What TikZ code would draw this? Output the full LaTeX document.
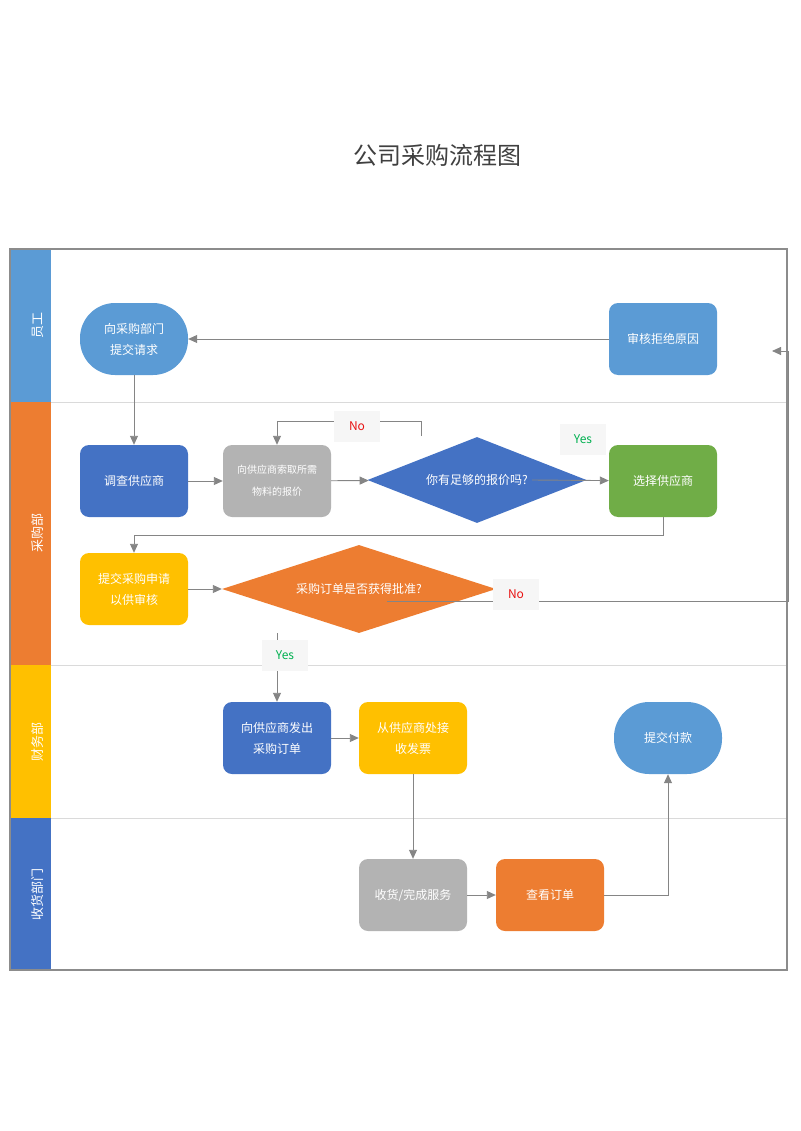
\documentclass[tikz,border=0pt]{standalone}
\usepackage{fontspec}
\newfontfamily\cjk{Noto Sans CJK SC}
\usepackage{xcolor}
\usepackage{tikz}
\usetikzlibrary{
    positioning,
    arrows.meta,
    shapes.geometric
}
\definecolor{staffblue}{HTML}{5B9BD5}
\definecolor{buyorange}{HTML}{ED7D31}
\definecolor{finyellow}{HTML}{FFC000}
\definecolor{recvblue}{HTML}{4472C4}
\definecolor{pickgreen}{HTML}{70AD47}
\definecolor{quotegray}{HTML}{B3B3B3}
\definecolor{linegray}{HTML}{858585}
\definecolor{framegray}{HTML}{8C8C8C}
\definecolor{lanegray}{HTML}{DADADA}
\definecolor{answerbg}{HTML}{F6F6F6}
\definecolor{yesgreen}{HTML}{00B050}
\definecolor{nored}{HTML}{E81010}
\definecolor{titlegray}{HTML}{404040}
\tikzset{
    lanelabel/.style={
        rotate=90, text=white,
        font=\cjk\fontsize{13pt}{15pt}\selectfont
    },
    procbox/.style={
        rectangle, fill=#1, draw=none,
        rounded corners=9pt,
        minimum width=108pt, minimum height=72pt,
        inner sep=2pt, align=center, text=white,
        font=\cjk\fontsize{12pt}{21pt}\selectfont
    },
    termbox/.style={
        procbox=#1, rounded corners=35pt
    },
    decision/.style={
        diamond, fill=#1, draw=none, aspect=3,
        inner sep=0pt, align=center, text=white,
        font=\cjk\fontsize{12pt}{14pt}\selectfont
    },
    flow/.style={
        -{Triangle[length=9pt,width=8pt]}, draw=linegray, line width=0.9pt
    },
    answer/.style={
        rectangle, fill=answerbg, text=#1,
        minimum width=46pt, minimum height=31pt,
        font=\cjk\fontsize{12pt}{14pt}\selectfont
    }
}

\begin{document}
\begin{tikzpicture}[x=1pt, y=-1pt]

    \useasboundingbox (0,0) rectangle (800,1131);

    \node[font=\cjk\fontsize{24pt}{28pt}\selectfont, text=titlegray] (title) at (437,155) {公司采购流程图};

    % lanes
    \fill[staffblue] (10,249) rectangle (51,402);
    \fill[buyorange] (10,402) rectangle (51,665);
    \fill[finyellow] (10,665) rectangle (51,818);
    \fill[recvblue] (10,818) rectangle (51,970);
    \foreach \y in {402,665,818}
        \draw[lanegray, line width=0.8pt] (51,\y) -- (787,\y);
    \draw[framegray, line width=1.3pt] (10,249) rectangle (787,970);

    \node[lanelabel] (staff) at (38,325) {员工};
    \node[lanelabel] (buy) at (38,533) {采购部};
    \node[lanelabel] (fin) at (38,742) {财务部};
    \node[lanelabel] (recv) at (38,894) {收货部门};

    % steps
    \node[termbox=staffblue] (request) at (134,339) {向采购部门\\提交请求};
    \node[procbox=staffblue] (reason) at (663,339) {审核拒绝原因};
    \node[procbox=recvblue] (survey) at (134,481) {调查供应商};
    \node[procbox=quotegray, font=\cjk\fontsize{10pt}{22pt}\selectfont] (quote) at (277,481) {向供应商索取所需\\物料的报价};
    \node[decision=recvblue, minimum width=219pt, minimum height=86pt] (enough) at (477,480) {你有足够的报价吗?};
    \node[procbox=pickgreen] (choose) at (663,481) {选择供应商};
    \node[procbox=finyellow] (apply) at (134,589) {提交采购申请\\以供审核};
    \node[decision=buyorange, minimum width=274pt, minimum height=88pt] (approved) at (359,589) {采购订单是否获得批准?};
    \node[procbox=recvblue] (order) at (277,738) {向供应商发出\\采购订单};
    \node[procbox=finyellow] (invoice) at (413,738) {从供应商处接\\收发票};
    \node[termbox=staffblue] (pay) at (668,738) {提交付款};
    \node[procbox=quotegray] (receive) at (413,895) {收货/完成服务};
    \node[procbox=buyorange] (check) at (550,895) {查看订单};

    \coordinate (yesFrom1) at (532,480);
    \coordinate (noFrom1) at (421,436);
    \coordinate (noFrom2) at (387,601);
    \coordinate (backTurn) at (788,351);
    \coordinate (backEnd) at (772,351);
    \coordinate (yesFrom2) at (277,633);

    % connectors
    \draw[flow] (reason) -- (request);
    \draw[flow] (request) -- (survey);
    \draw[flow] (survey) -- (quote);
    \draw[flow] (quote) -- (enough);
    \draw[flow] (yesFrom1) -- (choose);
    \draw[flow] (noFrom1) -- ++(0,-15) -| (quote.north);
    \draw[flow] (choose.south) -- ++(0,18) -| (apply.north);
    \draw[flow] (apply) -- (approved);
    \draw[flow] (noFrom2) -| (backTurn) -- (backEnd);
    \draw[flow] (yesFrom2) -- (order.north);
    \draw[flow] (order) -- (invoice);
    \draw[flow] (invoice) -- (receive);
    \draw[flow] (receive) -- (check);
    \draw[flow] (check.east) -| (pay.south);

    \node[answer=nored] (no1) at (357,426) {No};
    \node[answer=yesgreen] (yes1) at (583,439) {Yes};
    \node[answer=nored] (no2) at (516,594) {No};
    \node[answer=yesgreen] (yes2) at (285,655) {Yes};

\end{tikzpicture}
\end{document}
